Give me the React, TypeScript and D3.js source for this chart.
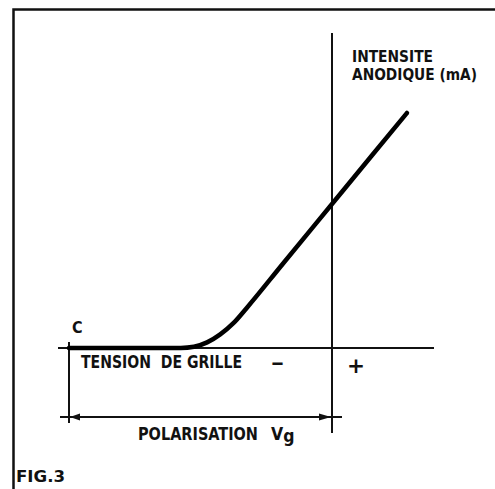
import React, { useEffect, useRef } from 'react';
import * as d3 from 'd3';

// grid voltage (arbitrary units, 0 = vertical axis) and anode current
const gridVoltage = [-8, -4.6, -4.2, -3.8, -3.4, -3.0, -2.6, -1.5, 0, 1.2, 2.28];
const anodeCurrent = [0, 0, 0.06, 0.28, 0.68, 1.24, 1.99, 4.2, 7.2, 9.6, 11.75];

const yLabelLines = ['INTENSITE', 'ANODIQUE (mA)'];
const xLabel = 'TENSION  DE GRILLE';
const polLabel = 'POLARISATION';
const figLabel = 'FIG.3';

const FONT = "'DejaVu Sans Condensed', 'DejaVu Sans', sans-serif";

const App = () => {
    const svgRef = useRef<SVGSVGElement>(null);

    useEffect(() => {
        const svg = d3.select(svgRef.current);
        svg.selectAll('*').remove();

        const width = 495;
        const height = 489;

        const x = d3.scaleLinear().domain([-8, 0]).range([69, 332]);
        const y = d3.scaleLinear().domain([0, 12]).range([348, 108]);

        svg.append('rect').attr('width', width).attr('height', height).attr('fill', '#fff');

        // frame (top and left)
        svg.append('path')
            .attr('d', `M13.5,489 L13.5,9.5 L495,9.5`)
            .attr('fill', 'none')
            .attr('stroke', '#111')
            .attr('stroke-width', 2.5);

        const axisColor = '#111';

        // horizontal axis
        svg.append('line')
            .attr('x1', 58).attr('x2', 434)
            .attr('y1', y(0)).attr('y2', y(0))
            .attr('stroke', axisColor).attr('stroke-width', 2);

        // vertical axis at Vg = 0
        svg.append('line')
            .attr('x1', x(0)).attr('x2', x(0))
            .attr('y1', 33).attr('y2', 433)
            .attr('stroke', axisColor).attr('stroke-width', 2);

        // cut-off tick at C
        svg.append('line')
            .attr('x1', x(-8)).attr('x2', x(-8))
            .attr('y1', 342).attr('y2', 423)
            .attr('stroke', axisColor).attr('stroke-width', 2);

        // polarisation arrow
        const arrowY = 417;
        svg.append('line')
            .attr('x1', 60).attr('x2', 342)
            .attr('y1', arrowY).attr('y2', arrowY)
            .attr('stroke', axisColor).attr('stroke-width', 2);
        svg.append('path')
            .attr('d', `M${x(-8) + 1},${arrowY} l10,-3.5 l0,7 z`)
            .attr('fill', axisColor);
        svg.append('path')
            .attr('d', `M${x(0) - 1},${arrowY} l-12,-3.5 l0,7 z`)
            .attr('fill', axisColor);

        // characteristic curve
        const line = d3.line<number>()
            .x((_, i) => x(gridVoltage[i]))
            .y(d => y(d))
            .curve(d3.curveMonotoneX);

        svg.append('path')
            .datum(anodeCurrent)
            .attr('d', line)
            .attr('fill', 'none')
            .attr('stroke', '#000')
            .attr('stroke-width', 4.5)
            .attr('stroke-linecap', 'round');

        const text = (str: string, tx: number, ty: number, size: number, len?: number) => {
            const t = svg.append('text')
                .attr('x', tx).attr('y', ty)
                .attr('font-family', FONT)
                .attr('font-weight', 'bold')
                .attr('font-size', size)
                .attr('fill', '#111')
                .attr('xml:space', 'preserve')
                .style('white-space', 'pre')
                .text(str);
            if (len) t.attr('textLength', len).attr('lengthAdjust', 'spacingAndGlyphs');
            return t;
        };

        text(yLabelLines[0], 352, 62, 16, 81);
        text(yLabelLines[1], 352, 80, 16, 125);
        text('C', 72, 333, 16);
        text(xLabel, 81, 368, 18, 161);
        text('\u2013', 271, 369, 20, 13);
        text('+', 347, 373, 22, 18);
        text(polLabel, 138, 440, 17.5, 120);

        const vg = svg.append('text')
            .attr('x', 271).attr('y', 440)
            .attr('font-family', FONT)
            .attr('font-weight', 'bold')
            .attr('font-size', 17.5)
            .attr('fill', '#111');
        vg.append('tspan').text('V');
        vg.append('tspan').attr('dy', 2).text('g');

        text(figLabel, 16, 482, 16, 49);
    }, []);

    return (
        <svg ref={svgRef} width={495} height={489}
            style={{ position: 'absolute', left: 0, top: 0 }}></svg>
    );
};

export default App;
